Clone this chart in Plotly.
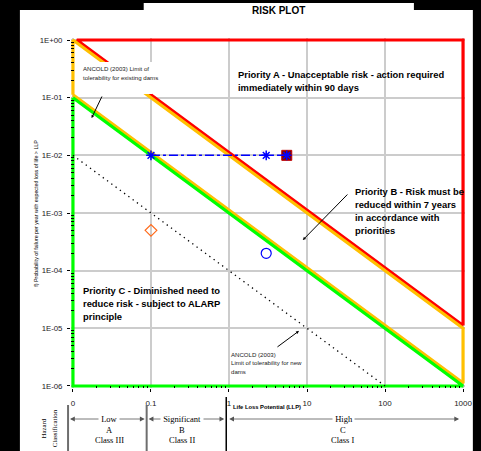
import plotly.graph_objects as go

# ---------------- data ----------------
x_tick_vals = [0.01, 0.1, 1, 10, 100, 1000]
x_tick_text = ["0", "0.1", "1", "10", "100", "1000"]
y_tick_vals = [1, 1e-1, 1e-2, 1e-3, 1e-4, 1e-5, 1e-6]
y_tick_text = ["1E+00", "1E-01", "1E-02", "1E-03", "1E-04", "1E-05", "1E-06"]

# Priority A boundary (red)
red_x = [1000, 0.0112, 1000, 1000]
red_y = [1.12e-5, 1, 1, 1.12e-5]
# ALARP band boundary (yellow)
yel_x = [0.01, 0.01, 1000, 1000, 0.01]
yel_y = [0.112, 1, 1e-5, 1.12e-6, 0.112]
# Priority C boundary (green)
grn_x = [0.01, 0.01, 1000, 0.01]
grn_y = [0.1, 1e-6, 1e-6, 0.1]
# ANCOLD (2003) limit of tolerability for new dams
new_x = [0.01, 100]
new_y = [1e-2, 1e-6]
# dam risk path
path_x = [0.1, 3, 5.5]
path_y = [1e-2, 1e-2, 1e-2]
sq_x = [5.5]
sq_y = [1e-2]
dia_x = [0.1]
dia_y = [5e-4]
circ_x = [3]
circ_y = [2e-4]

minor_x = [k * 10.0 ** d for d in range(-2, 3) for k in range(2, 10)]
minor_y = [k * 10.0 ** d for d in range(-6, 0) for k in range(2, 10)]

# ---------------- geometry helpers (pixel -> paper) ----------------
L, R, T, B = 71, 9, 38, 63
W, H = 481, 451
PW, PH = W - L - R, H - T - B


def px(x):
    return (x - L) / PW


def py(y):
    return (H - B - y) / PH


SANS = "Liberation Sans, Arial, sans-serif"
SERIF = "Liberation Serif, Times New Roman, serif"

fig = go.Figure()
fig.add_trace(go.Scatter(x=red_x, y=red_y, mode="lines",
                         line=dict(color="#FF0000", width=3.2), showlegend=False))
fig.add_trace(go.Scatter(x=yel_x, y=yel_y, mode="lines",
                         line=dict(color="#FFC000", width=3.2), showlegend=False))
fig.add_trace(go.Scatter(x=grn_x, y=grn_y, mode="lines",
                         line=dict(color="#00FF00", width=3.2), showlegend=False))
fig.add_trace(go.Scatter(x=new_x, y=new_y, mode="lines",
                         line=dict(color="black", width=1.3, dash="1.3px,4px"),
                         showlegend=False))
fig.add_trace(go.Scatter(x=sq_x, y=sq_y, mode="markers",
                         marker=dict(symbol="square", size=10, color="#800000",
                                     line=dict(color="#C00000", width=1)), showlegend=False))
fig.add_trace(go.Scatter(x=path_x, y=path_y, mode="lines+markers",
                         line=dict(color="#0000FF", width=1.5, dash="dashdot"),
                         marker=dict(symbol="asterisk-open", size=8,
                                     line=dict(color="#0000FF", width=1.5)),
                         showlegend=False))
fig.add_trace(go.Scatter(x=dia_x, y=dia_y, mode="markers",
                         marker=dict(symbol="diamond-open", size=9, color="#FF6A1A",
                                     line=dict(color="#FF6A1A", width=1.2)), showlegend=False))
fig.add_trace(go.Scatter(x=circ_x, y=circ_y, mode="markers",
                         marker=dict(symbol="circle-open", size=10, color="#0000FF",
                                     line=dict(color="#0000FF", width=1.2)), showlegend=False))

shapes = []
# white page areas on black background
shapes.append(dict(type="rect", xref="paper", yref="paper", layer="below",
                   x0=px(19), x1=px(480), y0=py(10), y1=py(451),
                   fillcolor="white", line=dict(width=0)))
shapes.append(dict(type="rect", xref="paper", yref="paper", layer="below",
                   x0=px(145), x1=px(420), y0=py(3), y1=py(11),
                   fillcolor="white", line=dict(width=0)))
# white box behind the existing-dams label
shapes.append(dict(type="rect", xref="paper", yref="paper", layer="above",
                   x0=px(79), x1=px(153.5), y0=py(62), y1=py(94),
                   fillcolor="white", line=dict(width=0)))
# hazard classification separators
shapes.append(dict(type="line", xref="paper", yref="paper",
                   x0=px(68), x1=px(68), y0=py(405), y1=py(451),
                   line=dict(color="#6E6E6E", width=2)))
shapes.append(dict(type="line", xref="paper", yref="paper",
                   x0=px(148), x1=px(148), y0=py(405), y1=py(451),
                   line=dict(color="#6E6E6E", width=2)))
shapes.append(dict(type="line", xref="paper", yref="paper",
                   x0=px(229), x1=px(229), y0=py(397), y1=py(451),
                   line=dict(color="black", width=1.5)))

ann = []


def text_lines(lines, x, y0, dy, size, bold=False, xanchor="left", family=SANS,
               color="black", bg=None):
    for i, s in enumerate(lines):
        d = dict(xref="paper", yref="paper", x=px(x), y=py(y0 + i * dy),
                 text=("<b>%s</b>" % s) if bold else s, showarrow=False,
                 xanchor=xanchor, yanchor="middle",
                 font=dict(family=family, size=size, color=color), borderpad=0)
        if bg:
            d["bgcolor"] = bg
        ann.append(d)


def arrow(tail, head, color="black", width=1, size=0.6, head_style=2):
    ann.append(dict(xref="paper", yref="paper", x=px(head[0]), y=py(head[1]),
                    ax=tail[0] - head[0], ay=tail[1] - head[1],
                    text="", showarrow=True, arrowhead=head_style, arrowsize=size,
                    arrowwidth=width, arrowcolor=color))


text_lines(["RISK PLOT"], 282, 11, 0, 10, bold=True, xanchor="center")
text_lines(["Priority A - Unacceptable risk - action required",
            "immediately within 90 days"], 240, 74, 13, 9.4, bold=True)
text_lines(["Priority B - Risk must be", "reduced within 7 years",
            "in accordance with", "priorities"], 359, 192, 13, 9.4, bold=True)
text_lines(["Priority C - Diminished need to", "reduce risk - subject to ALARP",
            "principle"], 82, 290, 13, 9.4, bold=True)
text_lines(["ANCOLD (2003) Limit of", "tolerability for existing dams"],
           82, 68, 9, 6.1, color="#222222")
text_lines(["ANCOLD (2003)", "Limit of tolerability for new", "dams"],
           233, 354, 8.6, 6.1, color="#222222")
arrow((353, 193), (307, 240))
arrow((103, 95), (92, 118))
arrow((280, 348), (303, 331))

text_lines(["Life Loss Potential (LLP)"], 235, 407, 0, 5.8, bold=True)
ann.append(dict(xref="paper", yref="paper", x=px(35), y=py(213),
                text="f) Probability of failure per year with expected loss of life > LLP",
                textangle=-90, showarrow=False, xanchor="center", yanchor="middle",
                font=dict(family=SANS, size=5.3, color="black")))
ann.append(dict(xref="paper", yref="paper", x=px(43), y=py(428), text="Hazard",
                textangle=-90, showarrow=False, xanchor="center", yanchor="middle",
                font=dict(family=SERIF, size=6.8, color="black")))
ann.append(dict(xref="paper", yref="paper", x=px(54), y=py(428), text="Classification",
                textangle=-90, showarrow=False, xanchor="center", yanchor="middle",
                font=dict(family=SERIF, size=6.8, color="black")))

# hazard class arrows and labels
for left, right, mid, lines in [(70, 146, 110, ["Low", "A", "Class III"]),
                                 (150, 227, 184, ["Significant", "B", "Class II"]),
                                 (232, 466, 348, ["High", "C", "Class I"])]:
    arrow((mid, 419), (left, 419), color="#555555", width=0.8, size=1.2, head_style=2)
    arrow((mid, 419), (right, 419), color="#555555", width=0.8, size=1.2, head_style=2)
    text_lines([" " + lines[0] + " "], mid, 419, 0, 8.5, xanchor="center",
               family=SERIF, bg="white")
    text_lines(lines[1:], mid, 430, 10.5, 8.5, xanchor="center", family=SERIF)

fig.update_layout(
    width=W, height=H,
    margin=dict(l=L, r=R, t=T, b=B, pad=0),
    paper_bgcolor="black", plot_bgcolor="white",
    shapes=shapes, annotations=ann,
    xaxis=dict(type="log", range=[-2.025, 3.025], tickmode="array",
               tickvals=x_tick_vals, ticktext=x_tick_text,
               showgrid=True, gridcolor="#CCCCCC", gridwidth=1.5,
               zeroline=False, showline=False,
               ticks="outside", ticklen=3, tickcolor="black",
               ticklabelstandoff=4,
               tickfont=dict(family=SANS, size=8, color="#222222"),
               minor=dict(tickmode="array", tickvals=minor_x, ticks="inside",
                          ticklen=2.5, tickcolor="black", showgrid=False)),
    yaxis=dict(type="log", range=[-6.035, 0.035], tickmode="array",
               tickvals=y_tick_vals, ticktext=y_tick_text,
               showgrid=True, gridcolor="#CCCCCC", gridwidth=1.5,
               zeroline=False, showline=False,
               ticks="outside", ticklen=3, tickcolor="black",
               ticklabelstandoff=3,
               tickfont=dict(family=SANS, size=7.8, color="#222222"),
               minor=dict(tickmode="array", tickvals=minor_y, ticks="inside",
                          ticklen=2.5, tickcolor="black", showgrid=False)),
)

fig.write_html("out.html",
               config={"displayModeBar": False},
               post_script="document.body.style.margin='0';"
                           "document.body.style.overflow='hidden';")
